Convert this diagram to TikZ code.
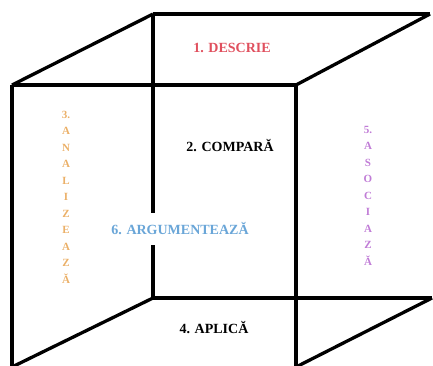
\documentclass[tikz,border=0pt]{standalone}
\usepackage{fontspec}
\setmainfont{Liberation Serif}
\definecolor{cred}{HTML}{E0505E}
\definecolor{corange}{HTML}{EBB068}
\definecolor{cpurple}{HTML}{C07CD6}
\definecolor{cblue}{HTML}{6AA6D8}
\begin{document}
\begin{tikzpicture}[x=1pt,y=-1pt,
  edge/.style={line width=3.3pt,black,line join=miter},
  lbl/.style={font=\fontsize{14}{16}\selectfont\bfseries,inner sep=1pt},
  vlbl/.style={font=\fontsize{11}{16.5}\selectfont\bfseries,align=center,inner sep=0pt}]
\useasboundingbox (0,0) rectangle (433,365);
% back square corners
\coordinate (btl) at (153,14);
\coordinate (btr) at (430,14);
\coordinate (bbl) at (153,298);
\coordinate (bbr) at (432,298);
% front square corners
\coordinate (ftl) at (12,85);
\coordinate (ftr) at (296,85);
\coordinate (fbl) at (12,367);
\coordinate (fbr) at (296,367);
\draw[edge] (btl) -- (btr);
\draw[edge] (bbl) -- (bbr);
\draw[edge] (btl) -- (bbl);
\draw[edge] (ftl) -- (ftr);
\draw[edge] (ftl) -- (fbl);
\draw[edge] (ftr) -- (fbr);
\draw[edge] (btl) -- (ftl);
\draw[edge] (btr) -- (ftr);
\draw[edge] (bbl) -- (fbl);
\draw[edge] (bbr) -- (fbr);
\node[lbl,text=cred] (t1) at (232,48) {1. DESCRIE};
\node[lbl] (t2) at (230,146) {2. COMPARĂ};
\node[lbl,text=cblue,fill=white,inner ysep=10pt] (t6) at (180,229) {6. ARGUMENTEAZĂ};
\node[lbl] (t4) at (214,328) {4. APLICĂ};
\node[vlbl,text=corange,anchor=north] (t3) at (66,111) {3.\\A\\N\\A\\L\\I\\Z\\E\\A\\Z\\Ă};
\node[vlbl,text=cpurple,anchor=north] (t5) at (368,126) {5.\\A\\S\\O\\C\\I\\A\\Z\\Ă};
\end{tikzpicture}
\end{document}
